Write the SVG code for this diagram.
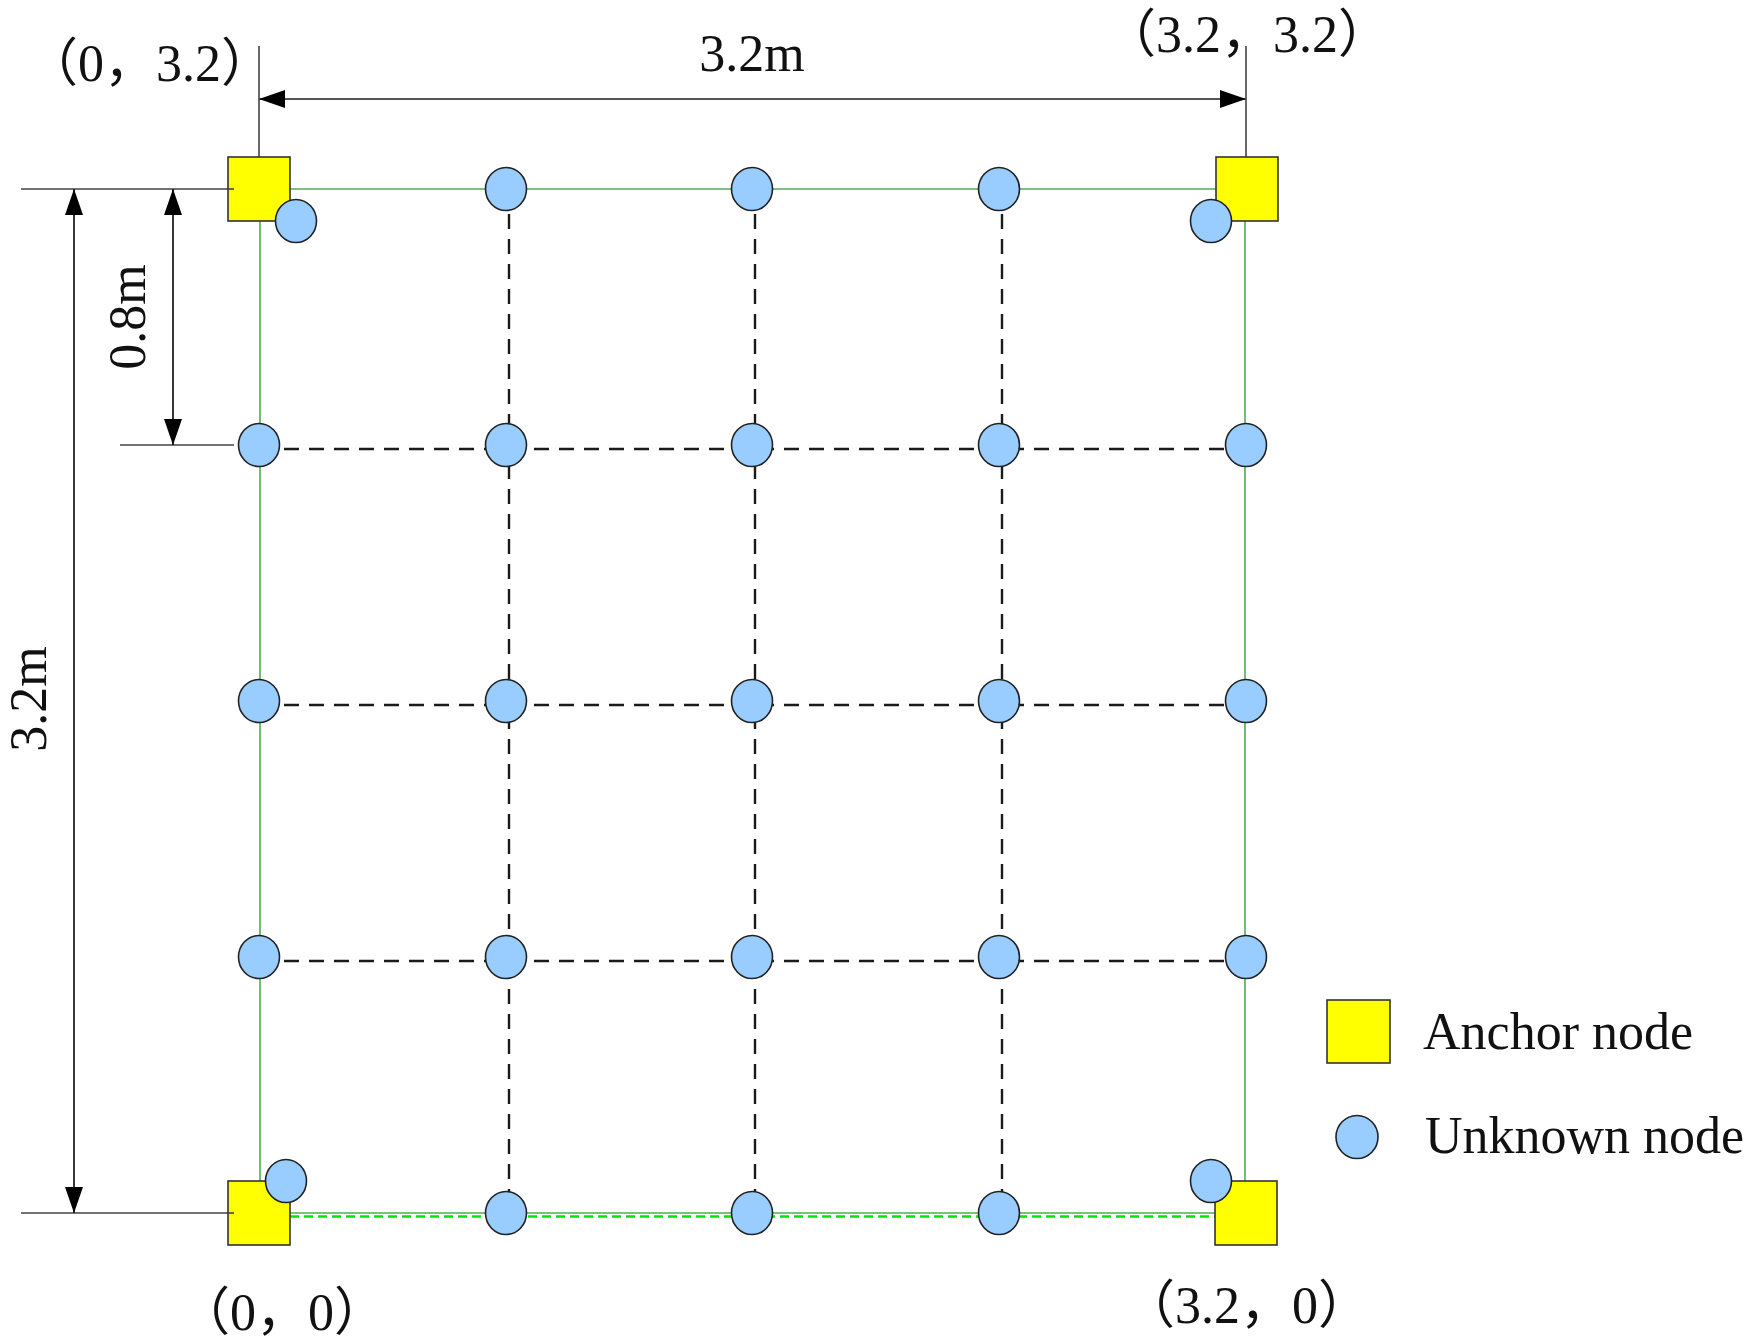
<svg xmlns="http://www.w3.org/2000/svg" width="1752" height="1344" viewBox="0 0 1752 1344">
<style>
.txt{font-family:"Liberation Serif","Noto Sans CJK SC",serif;font-size:52px;fill:#111}
.green{stroke:#4caf50;stroke-width:1.6;fill:none}
.gdash{stroke:#00e600;stroke-width:2.5;stroke-dasharray:9 5;fill:none}
.dash{stroke:#1a1a1a;stroke-width:2.4;stroke-dasharray:15 10;fill:none}
.ext{stroke:#444;stroke-width:1.6;fill:none}
.dim{stroke:#555;stroke-width:2.2;fill:none;marker-start:url(#arr);marker-end:url(#arr)}
.dimb{stroke:#222;stroke-width:1.8;fill:none;marker-start:url(#arr);marker-end:url(#arr)}
.anchor{fill:#ffff00;stroke:#333;stroke-width:1.6}
.unk{fill:#99ccff;stroke:#222;stroke-width:1.6}
</style>
<defs>
<marker id="arr" viewBox="0 0 26 18" refX="26" refY="9" markerWidth="26" markerHeight="18" markerUnits="userSpaceOnUse" orient="auto-start-reverse">
<path d="M0,0 L26,9 L0,18 z" fill="#000"/>
</marker>
</defs>
<rect width="1752" height="1344" fill="#fff"/>

<g id="connectors">
<!-- green frame -->
<line class="green" x1="290" y1="189" x2="1216" y2="189"/>
<line class="green" x1="260" y1="221" x2="260" y2="1181"/>
<line class="green" x1="1245" y1="221" x2="1245" y2="1181"/>
<line class="green" x1="290" y1="1213" x2="1216" y2="1213"/>
<line class="gdash" x1="290" y1="1216.5" x2="1215" y2="1216.5"/>
<!-- dashed grid -->
<line class="dash" x1="259" y1="449" x2="1246" y2="449"/>
<line class="dash" x1="259" y1="705" x2="1246" y2="705"/>
<line class="dash" x1="259" y1="961" x2="1246" y2="961"/>
<line class="dash" x1="509" y1="189" x2="509" y2="1213"/>
<line class="dash" x1="755" y1="189" x2="755" y2="1213"/>
<line class="dash" x1="1002" y1="189" x2="1002" y2="1213"/>
<!-- extension lines -->
<line class="ext" x1="259" y1="46" x2="259" y2="157"/>
<line class="ext" x1="1246" y1="46" x2="1246" y2="157"/>
<line class="ext" x1="21" y1="189" x2="234" y2="189"/>
<line class="ext" x1="21" y1="1213" x2="234" y2="1213"/>
<line class="ext" x1="120" y1="445" x2="234" y2="445"/>
<!-- dimension lines -->
<line class="dim" x1="259" y1="99" x2="1246" y2="99"/>
<line class="dimb" x1="74" y1="189" x2="74" y2="1213"/>
<line class="dimb" x1="173" y1="189" x2="173" y2="445"/>
</g>

<g id="anchor-0-32"><rect class="anchor" x="228" y="157" width="62" height="64"/></g>
<g id="anchor-32-32"><rect class="anchor" x="1216" y="157" width="62" height="64"/></g>
<g id="anchor-0-0"><rect class="anchor" x="228" y="1181" width="62" height="64"/></g>
<g id="anchor-32-0"><rect class="anchor" x="1215" y="1181" width="62" height="64"/></g>
<line class="ext" x1="228" y1="189" x2="234" y2="189"/>
<line class="ext" x1="228" y1="1213" x2="234" y2="1213"/>

<g id="unknown-nodes">
<g id="u-c1"><ellipse class="unk" cx="296" cy="221" rx="20.5" ry="21.5"/></g>
<g id="u-c2"><ellipse class="unk" cx="1211" cy="221" rx="20.5" ry="21.5"/></g>
<g id="u-c3"><ellipse class="unk" cx="286" cy="1181" rx="20.5" ry="21.5"/></g>
<g id="u-c4"><ellipse class="unk" cx="1211" cy="1181" rx="20.5" ry="21.5"/></g>
<g id="u-r0c1"><ellipse class="unk" cx="506" cy="189" rx="20.5" ry="21.5"/></g>
<g id="u-r0c2"><ellipse class="unk" cx="752" cy="189" rx="20.5" ry="21.5"/></g>
<g id="u-r0c3"><ellipse class="unk" cx="999" cy="189" rx="20.5" ry="21.5"/></g>
<g id="u-r1c0"><ellipse class="unk" cx="259" cy="445" rx="20.5" ry="21.5"/></g>
<g id="u-r1c1"><ellipse class="unk" cx="506" cy="445" rx="20.5" ry="21.5"/></g>
<g id="u-r1c2"><ellipse class="unk" cx="752" cy="445" rx="20.5" ry="21.5"/></g>
<g id="u-r1c3"><ellipse class="unk" cx="999" cy="445" rx="20.5" ry="21.5"/></g>
<g id="u-r1c4"><ellipse class="unk" cx="1246" cy="445" rx="20.5" ry="21.5"/></g>
<g id="u-r2c0"><ellipse class="unk" cx="259" cy="701" rx="20.5" ry="21.5"/></g>
<g id="u-r2c1"><ellipse class="unk" cx="506" cy="701" rx="20.5" ry="21.5"/></g>
<g id="u-r2c2"><ellipse class="unk" cx="752" cy="701" rx="20.5" ry="21.5"/></g>
<g id="u-r2c3"><ellipse class="unk" cx="999" cy="701" rx="20.5" ry="21.5"/></g>
<g id="u-r2c4"><ellipse class="unk" cx="1246" cy="701" rx="20.5" ry="21.5"/></g>
<g id="u-r3c0"><ellipse class="unk" cx="259" cy="957" rx="20.5" ry="21.5"/></g>
<g id="u-r3c1"><ellipse class="unk" cx="506" cy="957" rx="20.5" ry="21.5"/></g>
<g id="u-r3c2"><ellipse class="unk" cx="752" cy="957" rx="20.5" ry="21.5"/></g>
<g id="u-r3c3"><ellipse class="unk" cx="999" cy="957" rx="20.5" ry="21.5"/></g>
<g id="u-r3c4"><ellipse class="unk" cx="1246" cy="957" rx="20.5" ry="21.5"/></g>
<g id="u-r4c1"><ellipse class="unk" cx="506" cy="1213" rx="20.5" ry="21.5"/></g>
<g id="u-r4c2"><ellipse class="unk" cx="752" cy="1213" rx="20.5" ry="21.5"/></g>
<g id="u-r4c3"><ellipse class="unk" cx="999" cy="1213" rx="20.5" ry="21.5"/></g>
</g>

<g id="labels">
<text class="txt" x="26" y="81">（0，3.2）</text>
<text class="txt" x="1104" y="52">（3.2，3.2）</text>
<text class="txt" x="178" y="1330">（0，0）</text>
<text class="txt" x="1123" y="1323">（3.2，0）</text>
<text class="txt" x="752" y="71" text-anchor="middle">3.2m</text>
<text class="txt" transform="translate(145,317) rotate(-90)" text-anchor="middle">0.8m</text>
<text class="txt" transform="translate(46,699) rotate(-90)" text-anchor="middle">3.2m</text>
</g>

<g id="legend">
<g id="legend-anchor"><rect class="anchor" x="1327" y="1000" width="63" height="63"/><text class="txt" x="1423" y="1049">Anchor node</text></g>
<g id="legend-unknown"><ellipse class="unk" cx="1357" cy="1137" rx="21" ry="21.5"/><text class="txt" x="1425" y="1153">Unknown node</text></g>
</g>
</svg>
